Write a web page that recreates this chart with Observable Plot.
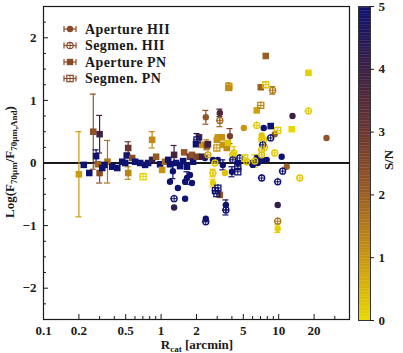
<!DOCTYPE html>
<html><head><meta charset="utf-8">
<script src="https://cdn.jsdelivr.net/npm/d3@7"></script>
<script src="https://cdn.jsdelivr.net/npm/@observablehq/plot@0.6"></script>
<style>
html,body{margin:0;padding:0;background:#fff;}
#wrap{position:relative;width:403px;height:353px;overflow:hidden;}
#wrap svg{position:absolute;top:0;}
</style></head><body><div id="wrap"></div>
<script>
// [R_cat (arcmin), log ratio, y error, S/N]
const apertureHII = [
  [1.26,-0.13,0.12,5],[1.19,-0.30,0,5],[1.39,-0.40,0,5],[1.60,-0.30,0,5],[1.76,-0.19,0,5],
  [1.60,-0.57,0,5],[1.29,-0.71,0,4.2],[1.83,-0.32,0,5],[1.66,-0.24,0.10,5],[2.40,0.73,0.11,2.2],
  [3.16,0.80,0.06,3.6],[3.85,0.43,0.12,2.8],[2.36,0.08,0,5],[2.76,0.05,0,5],[3.04,0.05,0,5],
  [3.35,-0.03,0.08,5],[3.49,-0.16,0,0.3],[2.76,-0.32,0.06,0.1],[4.49,0.00,0,5],[5.9,0.00,0,5],
  [6.51,0.08,0,5],[7.17,0.05,0,5],[3.56,-0.67,0.08,5],[2.40,-0.89,0,5],[4.0,-0.14,0.08,5],
  [6.02,-0.03,0,5],[7.32,0.05,0,5],[6.64,0.00,0,5],[13.1,0.75,0,4.0],[25.5,0.40,0,2.3],
  [5.05,0.56,0,1.0],[7.46,0.56,0,5],[9.25,0.46,0,2.0],[7.17,0.44,0,0.3],[10.6,0.10,0,5],
  [7.91,0.05,0,5],[11.7,-0.06,0,2.0],[9.81,-0.67,0,4.2],[9.81,-1.05,0.06,0.1]
];
const segmenHII = [
  [1.29,-0.57,0,5],[3.16,0.68,0.10,1.8],[2.50,0.13,0,0.8],[2.87,0.00,0,0.2],[2.76,-0.16,0.06,0.2],
  [4.07,0.13,0,0.2],[4.07,0.05,0,5],[4.67,0.08,0,5],[5.35,0.02,0,0.3],[7.17,0.13,0,0.3],
  [7.61,0.25,0,0.3],[7.46,0.37,0,0.3],[7.17,-0.24,0,5],[3.56,-0.75,0.08,5],[2.40,-0.94,0,5],
  [4.16,0.16,0.10,0.2],[6.26,0.03,0.10,0.3],[8.89,1.16,0.06,1.5],[17.9,0.83,0,0.2],[6.51,0.60,0,0.2],
  [8.55,0.40,0,5],[7.17,0.38,0,0.2],[7.32,0.29,0,5],[9.25,0.16,0,0.2],[7.17,0.21,0,0.3],
  [10.8,-0.13,0,5],[15.1,-0.24,0,0.2],[9.81,-0.30,0,5],[9.81,-0.93,0,1.6]
];
const aperturePN = [
  [0.20,-0.18,0.68,0.9],[0.22,-0.03,0,5],[0.245,-0.16,0,5],[0.265,0.50,0.60,2.3],[0.28,0.11,0.10,5],
  [0.30,0.46,0.30,3.9],[0.30,-0.16,0.16,2.4],[0.35,0.02,0.34,1.6],[0.29,-0.02,0,1.9],[0.316,-0.08,0,5],
  [0.33,-0.03,0,5],[0.384,-0.06,0,5],[0.424,-0.08,0,5],[0.467,0.02,0,5],[0.495,0.00,0,5],
  [0.51,0.12,0,4.8],[0.525,0.24,0.10,3.0],[0.525,-0.16,0.10,1.3],[0.568,0.08,0,2.4],[0.602,0.02,0,5],
  [0.664,0.00,0,5],[0.731,-0.03,0,5],[0.776,0.00,0,5],[0.839,0.37,0.13,1.2],[0.839,0.05,0,4.2],
  [0.907,0.10,0,2.1],[0.98,-0.02,0,5],[1.02,-0.11,0,1.0],[1.08,0.02,0,1.8],[1.15,0.05,0,5],
  [1.19,-0.02,0,5],[1.29,0.13,0.15,3.8],[1.34,0.00,0,5],[1.45,-0.05,0,5],[1.54,0.03,0,5],
  [1.57,0.17,0,2.2],[1.66,-0.06,0,5],[1.76,0.10,0,3.0],[1.83,0.13,0,2.3],[1.87,0.02,0,5],
  [1.98,0.30,0,5],[2.02,0.10,0,2.6],[2.10,0.41,0,3.8],[2.23,0.29,0,1.0],[2.23,0.10,0,4.0],
  [2.45,0.29,0.08,1.5],[2.45,0.27,0,2.2],[2.50,0.30,0,3.9],[2.98,0.37,0,1.1],[3.04,0.41,0,1.0],
  [3.16,-0.51,0,2.2],[3.29,0.41,0,1.1],[3.35,0.29,0,1.0],[3.62,0.24,0,1.2],[3.70,0.32,0,0.3],
  [3.77,1.20,0,1.2],[6.51,0.84,0,0.8],[7.04,1.21,0,2.0],[7.76,1.71,0,2.0],[8.55,0.59,0,5],
  [12.9,0.54,0,0.0],[17.9,1.44,0,0.1]
];
const segmenPN = [
  [0.703,-0.22,0,0.1],[2.02,0.37,0.10,5],[2.90,-0.44,0,5],[2.98,-0.49,0,5],[3.04,-0.40,0,5],
  [2.98,0.24,0,1.0],[3.77,1.22,0.06,1.1],[4.49,-0.14,0,5],[4.49,-0.06,0,5],[5.15,0.08,0,0.1],
  [7.04,0.92,0,1.3],[7.76,1.25,0,0.3],[9.81,0.52,0,0.2]
];
const legendLabels = ["Aperture HII","Segmen. HII","Aperture PN","Segmen. PN"];
const xTickValues = [0.1,0.2,0.5,1,2,5,10,20];
const xTickLabels = ["0.1","0.2","0.5","1","2","5","10","20"];
const yTickValues = [-2,-1,0,1,2];
const yTickLabels = ["\u22122","\u22121","0","1","2"];
const cbTickValues = [0,1,2,3,4,5];
const colorDomain = [0,1,2,3,4,5];
const colorRange = ["#e9d700","#c99510","#9b5e22","#6c3530","#3b1f44","#0e1270"];

const FONT = "'Liberation Serif','Times New Roman',serif";
const rows = (arr, kind) => arr.map(([r, v, e, sn]) => ({r, v, e, sn, kind}));
const AH = rows(apertureHII, "AH"), SH = rows(segmenHII, "SH"), AP = rows(aperturePN, "AP"), SP = rows(segmenPN, "SP");
const all = [...AH, ...SH, ...AP, ...SP];
const errs = all.filter(d => d.e > 0);
const open = [...SH, ...SP];

const color = {type: "linear", domain: colorDomain, range: colorRange, clamp: true};
const PXDEC = 118; // px per decade
const capF = Math.pow(10, 3 / PXDEC);
const hF = Math.pow(10, 3.5 / PXDEC);
const xMinor = [];
for (let k = -1; k <= 1; k++) for (let m = 1; m <= 9; m++) { const v = m * Math.pow(10, k); if (v >= 0.1 && v <= 40) xMinor.push(+v.toPrecision(3)); }
const yMinor = d3.range(-2.5, 2.51, 0.25).filter(v => !yTickValues.includes(v));
const YU = 5 / 313; // data units per px (approx)

const main = Plot.plot({
  width: 352, height: 353,
  marginLeft: 43, marginRight: 3, marginTop: 6, marginBottom: 34,
  x: {type: "log", domain: [0.1, 40], axis: null},
  y: {domain: [-2.5, 2.5], axis: null},
  color,
  style: {fontFamily: FONT, fontWeight: "bold", fontSize: "13px", background: "transparent"},
  marks: [
    Plot.ruleY([0], {stroke: "#1a1a1a", strokeWidth: 2}),
    Plot.ruleX(errs, {x: "r", y1: d => d.v - d.e, y2: d => d.v + d.e, stroke: "sn", strokeWidth: 1.2}),
    Plot.ruleY(errs, {y: d => d.v + d.e, x1: d => d.r / capF, x2: d => d.r * capF, stroke: "sn", strokeWidth: 1.2}),
    Plot.ruleY(errs, {y: d => d.v - d.e, x1: d => d.r / capF, x2: d => d.r * capF, stroke: "sn", strokeWidth: 1.2}),
    Plot.dot(AH, {x: "r", y: "v", r: 3.2, fill: "sn", symbol: "circle"}),
    Plot.dot(AP, {x: "r", y: "v", r: 3.7, fill: "sn", symbol: "square"}),
    Plot.dot(SH, {x: "r", y: "v", r: 3.0, fill: "none", stroke: "sn", strokeWidth: 1.3, symbol: "circle"}),
    Plot.dot(SP, {x: "r", y: "v", r: 3.4, fill: "none", stroke: "sn", strokeWidth: 1.3, symbol: "square"}),
    Plot.ruleY(open, {y: "v", x1: d => d.r / hF, x2: d => d.r * hF, stroke: "sn", strokeWidth: 1}),
    Plot.ruleX(open, {x: "r", y1: d => d.v - 3.5 * YU, y2: d => d.v + 3.5 * YU, stroke: "sn", strokeWidth: 1}),
    Plot.frame({stroke: "#1a1a1a", strokeWidth: 1.2}),
    // inward ticks
    Plot.ruleX(xTickValues.filter(v => v > 0.1), {x: d => d, y1: -2.5, y2: -2.5 + 5 * YU, stroke: "#1a1a1a"}),
    Plot.ruleX(xMinor.filter(v => !xTickValues.includes(v)), {x: d => d, y1: -2.5, y2: -2.5 + 3 * YU, stroke: "#1a1a1a"}),
    Plot.ruleY(yTickValues, {y: d => d, x1: 0.1, x2: 0.1 * Math.pow(10, 5 / PXDEC), stroke: "#1a1a1a"}),
    Plot.ruleY(yMinor, {y: d => d, x1: 0.1, x2: 0.1 * Math.pow(10, 3 / PXDEC), stroke: "#1a1a1a"}),
    Plot.text(xTickValues, {x: d => d, frameAnchor: "bottom", dy: 11, text: (d, i) => xTickLabels[i], fill: "#1a1a1a", lineAnchor: "middle"}),
    Plot.text(yTickValues, {y: d => d, frameAnchor: "left", dx: -7, text: (d, i) => yTickLabels[i], textAnchor: "end", fill: "#1a1a1a"})
  ]
});
main.style.left = "0px";
document.getElementById("wrap").appendChild(main);

const cbSteps = d3.range(0, 5, 0.025);
const cb = Plot.plot({
  width: 51, height: 353,
  marginLeft: 6, marginRight: 33, marginTop: 6, marginBottom: 33,
  x: {domain: [0, 1], axis: null},
  y: {domain: [0, 5], axis: null},
  color,
  style: {fontFamily: FONT, fontWeight: "bold", fontSize: "13px", background: "transparent"},
  marks: [
    Plot.rect(cbSteps, {x1: 0, x2: 1, y1: d => d, y2: d => Math.min(5, d + 0.03), fill: d => d + 0.0125}),
    Plot.frame({stroke: "#333", strokeWidth: 1}),
    Plot.ruleY(cbTickValues, {y: d => d, x1: 1, x2: 1.33, stroke: "#1a1a1a"}),
    Plot.text(cbTickValues, {y: d => d, frameAnchor: "right", dx: 8, textAnchor: "start", text: d => String(d), fill: "#1a1a1a"})
  ]
});
cb.style.left = "352px";
document.getElementById("wrap").appendChild(cb);

const txtStyle = (sel, size = 13) => sel.style("font-family", FONT).style("font-weight", "bold").style("font-size", size + "px").attr("fill", "#1a1a1a");

// axis titles
const msv = d3.select(main);
const xl = txtStyle(msv.append("text").attr("x", 197).attr("y", 349).attr("text-anchor", "middle"));
xl.append("tspan").text("R");
xl.append("tspan").attr("dy", 3).style("font-size", "9px").text("cat");
xl.append("tspan").attr("dy", -3).text(" [arcmin]");

const yl = txtStyle(msv.append("text").attr("transform", "translate(14,162) rotate(-90)").attr("text-anchor", "middle"));
yl.append("tspan").text("Log(F");
yl.append("tspan").attr("dy", 3).style("font-size", "9px").text("70\u03bcm");
yl.append("tspan").attr("dy", -3).text("/F");
yl.append("tspan").attr("dy", 3).style("font-size", "9px").text("70\u03bcm,And");
yl.append("tspan").attr("dy", -3).text(")");

txtStyle(d3.select(cb).append("text").attr("transform", "translate(41,160) rotate(-90)").attr("text-anchor", "middle")).text("S/N");

// legend
const lgColor = "#8a4a2a";
const lg = msv.append("g");
legendLabels.forEach((lab, i) => {
  const y = 29 + i * 16.5, x = 70;
  const g = lg.append("g").attr("stroke", lgColor).attr("fill", lgColor);
  g.append("line").attr("x1", x - 6).attr("x2", x + 6).attr("y1", y).attr("y2", y).attr("stroke-width", 1.2);
  g.append("line").attr("x1", x - 6).attr("x2", x - 6).attr("y1", y - 3).attr("y2", y + 3).attr("stroke-width", 1.2);
  g.append("line").attr("x1", x + 6).attr("x2", x + 6).attr("y1", y - 3).attr("y2", y + 3).attr("stroke-width", 1.2);
  const isOpen = i % 2 === 1, isSq = i >= 2;
  if (isSq) g.append("rect").attr("x", x - 3.2).attr("y", y - 3.2).attr("width", 6.4).attr("height", 6.4)
    .attr("fill", isOpen ? "white" : lgColor).attr("stroke-width", isOpen ? 1.2 : 0);
  else g.append("circle").attr("cx", x).attr("cy", y).attr("r", 3.2)
    .attr("fill", isOpen ? "white" : lgColor).attr("stroke-width", isOpen ? 1.2 : 0);
  if (isOpen) {
    g.append("line").attr("x1", x - 3).attr("x2", x + 3).attr("y1", y).attr("y2", y).attr("stroke-width", 1);
    g.append("line").attr("x1", x).attr("x2", x).attr("y1", y - 3).attr("y2", y + 3).attr("stroke-width", 1);
  }
  txtStyle(lg.append("text").attr("x", 85).attr("y", y).attr("dy", "0.35em").attr("text-anchor", "start"), 14)
    .style("letter-spacing", "0.4px").text(lab);
});
</script></body></html>
